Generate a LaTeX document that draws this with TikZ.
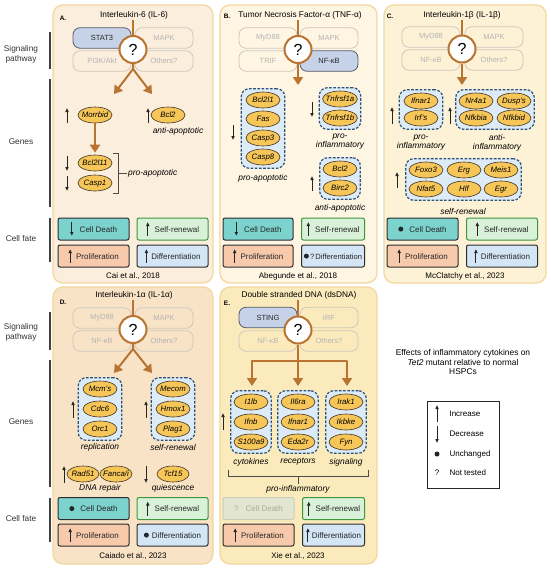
\documentclass[tikz,border=0pt]{standalone}
\usepackage{fontspec}
\setmainfont{Liberation Sans}
\usepackage{tikz}
\usetikzlibrary{shapes,arrows.meta,positioning,fit,backgrounds}
\usepackage{xcolor}
\definecolor{panA}{RGB}{252,238,220}
\definecolor{panB}{RGB}{254,245,226}
\definecolor{panC}{RGB}{253,242,214}
\definecolor{panD}{RGB}{249,227,198}
\definecolor{panE}{RGB}{251,235,188}
\definecolor{panline}{RGB}{244,214,156}
\definecolor{brn}{RGB}{185,116,50}
\definecolor{genefill}{RGB}{246,198,88}
\definecolor{geneline}{RGB}{60,50,40}
\definecolor{grpfill}{RGB}{221,235,247}
\definecolor{grpline}{RGB}{42,82,122}
\definecolor{onfill}{RGB}{198,210,232}
\definecolor{online}{RGB}{85,90,105}
\definecolor{offline}{RGB}{205,200,190}
\definecolor{offtext}{RGB}{180,180,180}
\definecolor{fateline}{RGB}{45,45,45}
\definecolor{deathfill}{RGB}{124,211,206}
\definecolor{renewfill}{RGB}{217,241,217}
\definecolor{renewline}{RGB}{62,150,62}
\definecolor{prolfill}{RGB}{248,202,172}
\definecolor{difffill}{RGB}{212,229,245}
\definecolor{nofill}{RGB}{226,230,208}
\definecolor{noline}{RGB}{200,205,185}
\definecolor{notext}{RGB}{170,172,160}

\pgfdeclarelayer{bottom}
\pgfsetlayers{bottom,background,main}

% small symbols used inside the cell fate boxes
\newcommand{\symup}{\tikz[baseline=0pt]\draw[-{Latex[length=4pt,width=3.8pt]}, line width=1pt] (0pt,-4pt) -- (0pt,10pt);}
\newcommand{\symdown}{\tikz[baseline=0pt]\draw[-{Latex[length=4pt,width=3.8pt]}, line width=1pt] (0pt,10pt) -- (0pt,-4pt);}
\newcommand{\symdot}{\tikz[baseline=0pt]\fill (0pt,2.9pt) circle (2.5pt);}

\begin{document}
\begin{tikzpicture}[x=1pt, y=-1pt,
    panel/.style={draw=panline, line width=1.2pt, rounded corners=10pt},
    side/.style={align=center, font=\fontsize{8.3}{10}\selectfont, text=black!80},
    bar/.style={draw=black!75, line width=1.3pt},
    plabel/.style={font=\fontsize{6.5}{7}\selectfont\bfseries},
    ptitle/.style={font=\fontsize{8.3}{10}\selectfont, inner sep=1pt},
    pathbox/.style={rectangle, rounded corners=7pt, minimum width=58pt, minimum height=20.5pt, line width=0.8pt, font=\fontsize{7.5}{9}\selectfont},
    pathoff/.style={pathbox, draw=offline, text=offtext},
    pathon/.style={pathbox, draw=online, fill=onfill, text=black!85},
    qmark/.style={circle, draw=brn, fill=white, line width=2pt, minimum size=27pt, inner sep=0pt, font=\fontsize{16}{16}\selectfont},
    brline/.style={draw=brn, line width=2pt, line join=round},
    brarrow/.style={brline, -{Triangle[length=8pt,width=10pt]}},
    gene/.style={ellipse, draw=geneline, fill=genefill, line width=0.6pt, minimum width=34pt, minimum height=16pt, inner xsep=-2pt, inner ysep=0pt, text height=5.6pt, text depth=1.6pt, font=\fontsize{7.8}{8}\selectfont\itshape},
    grp/.style={rectangle, draw=grpline, fill=grpfill, dash pattern=on 2.6pt off 1.6pt, line width=1.2pt, rounded corners=8pt, inner xsep=4.5pt, inner ysep=3pt},
    note/.style={align=center, font=\fontsize{8.4}{9}\selectfont\itshape, inner sep=1pt},
    ind/.style={-{Latex[length=4pt,width=3.8pt]}, line width=1pt, draw=black!85},
    brk/.style={draw=black!70, line width=0.7pt},
    fate/.style={rectangle, draw=fateline, line width=1pt, rounded corners=2pt, minimum width=71pt, minimum height=22pt, text height=10pt, text depth=4pt, font=\fontsize{8}{9}\selectfont, text=black!85},
    death/.style={fate, fill=deathfill},
    renew/.style={fate, fill=renewfill, draw=renewline},
    prolif/.style={fate, fill=prolfill},
    diffr/.style={fate, fill=difffill},
    untested/.style={fate, fill=nofill, draw=noline, text=notext},
    cite/.style={font=\fontsize{8}{9}\selectfont}
]
\useasboundingbox (0,0) rectangle (550,568);

% panels
\begin{pgfonlayer}{bottom}
\fill[white] (0,0) rectangle (550,568);
\draw[panel, fill=panA] (53,5) rectangle (213,283);
\draw[panel, fill=panB] (220,5) rectangle (377,283);
\draw[panel, fill=panC] (384,5) rectangle (546,283);
\draw[panel, fill=panD] (53,287) rectangle (213,564);
\draw[panel, fill=panE] (220,287) rectangle (377,564);
\end{pgfonlayer}

% row labels
\node[side] (sig1) at (21,54) {Signaling\\pathway};
\node[side] (gen1) at (21,142) {Genes};
\node[side] (fat1) at (21,239) {Cell fate};
\node[side] (sig2) at (21,332) {Signaling\\pathway};
\node[side] (gen2) at (21,422) {Genes};
\node[side] (fat2) at (21,519) {Cell fate};
\draw[bar] (50,32) -- (50,69);
\draw[bar] (50,79) -- (50,207);
\draw[bar] (50,218) -- (50,262);
\draw[bar] (50,312) -- (50,350);
\draw[bar] (50,360) -- (50,487);
\draw[bar] (50,498) -- (50,542);

%%% A: IL-6
\node[plabel] (labA) at (63,18) {A.};
\node[ptitle] (tA) at (134,15) {Interleukin-6 (IL-6)};
\node[pathon] (stat3) at (102,38) {STAT3};
\node[pathoff] (mapkA) at (164,38) {MAPK};
\node[pathoff] (pi3k) at (102,61) {PI3K/Akt};
\node[pathoff] (othA) at (164,61) {Others?};
\node[qmark] (qA) at (133,49.5) {?};
\coordinate (sA) at (133,69);
\coordinate (aAl) at (114,94);
\coordinate (aAr) at (152,94);
\draw[brline] (tA.south -| qA) -- (qA);
\draw[brarrow] (qA) -- (sA) -- (aAl);
\draw[brarrow] (sA) -- (aAr);

\node[gene] (morrbid) at (95,115) {Morrbid};
\node[gene] (bcl2A) at (168,115) {Bcl2};
\node[note] (antiA) at (178,131) {anti-apoptotic};
\node[gene] (bcl2l11) at (95,163) {Bcl2l11};
\node[gene] (casp1) at (95,183) {Casp1};
\draw[brarrow, shorten >=2pt] (morrbid) -- (bcl2l11);
\draw[ind] (67,123) -- (67,108);
\draw[ind] (148,123) -- (148,108);
\draw[ind] (67,156) -- (67,171);
\draw[ind] (67,176) -- (67,191);
\node[note, anchor=west] (proA) at (127,173) {pro-apoptotic};
\draw[brk] (113,153) -- (118,153) -- (118,193) -- (113,193);
\draw[brk] (118,173) -- (proA.west);

\node[death] (cdA) at (93.5,229) {\symdown\hspace{6pt}Cell Death};
\node[renew] (srA) at (172.5,229) {\symup\hspace{5pt}Self-renewal};
\node[prolif] (prA) at (93.5,256) {\symup\hspace{4pt}Proliferation};
\node[diffr] (dfA) at (172.5,256) {\symup\hspace{3pt}Differentiation};
\node[cite] (citA) at (133,276) {Cai et al., 2018};

%%% B: TNF-alpha
\node[plabel] (labB) at (227,16) {B.};
\node[ptitle] (tB) at (300,15) {Tumor Necrosis Factor-α (TNF-α)};
\node[pathoff] (myd88B) at (268,38) {MyD88};
\node[pathoff] (mapkB) at (329,38) {MAPK};
\node[pathoff] (trif) at (268,61) {TRIF};
\node[pathon] (nfkbB) at (329,61) {NF-κB};
\node[qmark] (qB) at (298,49.5) {?};
\coordinate (aB) at (298,85);
\draw[brline] (tB.south -| qB) -- (qB);
\draw[brarrow] (qB) -- (aB);

\node[gene] (bcl2l1) at (263,100) {Bcl2l1};
\node[gene] (fas) at (263,119) {Fas};
\node[gene] (casp3) at (263,138) {Casp3};
\node[gene] (casp8) at (263,157) {Casp8};
\node[gene] (tnfa) at (340,99) {Tnfrsf1a};
\node[gene] (tnfb) at (340,118) {Tnfrsf1b};
\node[gene] (bcl2B) at (340,169) {Bcl2};
\node[gene] (birc2) at (340,188) {Birc2};
\begin{scope}[on background layer]
\node[grp, fit=(bcl2l1)(casp8)] (gB1) {};
\node[grp, fit=(tnfa)(tnfb), inner xsep=3pt] (gB2) {};
\node[grp, fit=(bcl2B)(birc2), inner xsep=3pt] (gB3) {};
\end{scope}
\draw[ind] (233,125) -- (233,140);
\draw[ind] (312,102) -- (312,117);
\draw[ind] (312,191) -- (312,176);
\node[note] (proB) at (263,178) {pro-apoptotic};
\node[note] (inflB) at (340,142) {pro-\\inflammatory};
\node[note] (antiB) at (340,208) {anti-apoptotic};

\node[death, minimum width=70pt] (cdB) at (258,229) {\symdown\hspace{6pt}Cell Death};
\node[renew, minimum width=63pt] (srB) at (333,229) {\symup\hspace{5pt}Self-renewal};
\node[prolif, minimum width=70pt] (prB) at (258,256) {\symup\hspace{4pt}Proliferation};
\node[diffr, minimum width=63pt, inner xsep=1pt, font=\fontsize{7.6}{9}\selectfont] (dfB) at (333,256) {\symdot\,?\hspace{1pt}Differentiation};
\node[cite] (citB) at (298,276) {Abegunde et al., 2018};

%%% C: IL-1beta
\node[plabel] (labC) at (390,16) {C.};
\node[ptitle] (tC) at (462,15) {Interleukin-1β (IL-1β)};
\node[pathoff] (myd88C) at (431,37) {MyD88};
\node[pathoff] (mapkC) at (494,37) {MAPK};
\node[pathoff] (nfkbC) at (431,60) {NF-κB};
\node[pathoff] (othC) at (494,60) {Others?};
\node[qmark] (qC) at (462,49) {?};
\coordinate (aC) at (462,85);
\draw[brline] (tC) -- (qC);
\draw[brarrow] (qC) -- (aC);

\node[gene] (ifnar1C) at (421,101) {Ifnar1};
\node[gene] (irfs) at (421,118) {Irf's};
\node[gene] (nr4a1) at (476,101) {Nr4a1};
\node[gene] (dusps) at (514,101) {Dusp's};
\node[gene] (nfkbia) at (476,118) {Nfkbia};
\node[gene] (nfkbid) at (514,118) {Nfkbid};
\node[gene] (foxo3) at (426,170) {Foxo3};
\node[gene] (erg) at (464,170) {Erg};
\node[gene] (meis1) at (501,170) {Meis1};
\node[gene] (nfat5) at (426,189) {Nfat5};
\node[gene] (hlf) at (464,189) {Hlf};
\node[gene] (egr) at (501,189) {Egr};
\begin{scope}[on background layer]
\node[grp, fit=(ifnar1C)(irfs)] (gC1) {};
\node[grp, fit=(nr4a1)(nfkbid), inner xsep=3pt] (gC2) {};
\node[grp, fit=(foxo3)(egr), inner xsep=3pt] (gC3) {};
\end{scope}
\draw[ind] (392,124) -- (392,107);
\draw[ind] (450,124) -- (450,107);
\draw[ind] (397,188) -- (397,172);
\node[note] (inflC) at (421,143) {pro-\\inflammatory};
\node[note] (antiC) at (497,143) {anti-\\inflammatory};
\node[note] (srnC) at (463,211) {self-renewal};

\node[death] (cdC) at (422.5,229) {\symdot\hspace{6pt}Cell Death};
\node[renew] (srC) at (502,229) {\symup\hspace{5pt}Self-renewal};
\node[prolif] (prC) at (422.5,256) {\symup\hspace{4pt}Proliferation};
\node[diffr] (dfC) at (502,256) {\symup\hspace{3pt}Differentiation};
\node[cite] (citC) at (465,276) {McClatchy et al., 2023};

%%% D: IL-1alpha
\node[plabel] (labD) at (63,302) {D.};
\node[ptitle] (tD) at (134,295) {Interleukin-1α (IL-1α)};
\node[pathoff] (myd88D) at (102,318) {MyD88};
\node[pathoff] (mapkD) at (164,318) {MAPK};
\node[pathoff] (nfkbD) at (102,341) {NF-κB};
\node[pathoff] (othD) at (164,341) {Others?};
\node[qmark] (qD) at (133,329.5) {?};
\coordinate (sD) at (133,349);
\coordinate (aDl) at (114,373);
\coordinate (aDr) at (152,373);
\draw[brline] (tD.south -| qD) -- (qD);
\draw[brarrow] (qD) -- (sD) -- (aDl);
\draw[brarrow] (sD) -- (aDr);

\node[gene] (mcms) at (100,389) {Mcm's};
\node[gene] (cdc6) at (100,409) {Cdc6};
\node[gene] (orc1) at (100,429) {Orc1};
\node[gene] (mecom) at (173,389) {Mecom};
\node[gene] (hmox1) at (173,409) {Hmox1};
\node[gene] (plag1) at (173,429) {Plag1};
\begin{scope}[on background layer]
\node[grp, fit=(mcms)(orc1)] (gD1) {};
\node[grp, fit=(mecom)(plag1)] (gD2) {};
\end{scope}
\draw[ind] (73,418) -- (73,401);
\draw[ind] (146,418) -- (146,401);
\node[note] (repl) at (100,447) {replication};
\node[note] (srnD) at (173,447) {self-renewal};
\node[gene, minimum width=32pt] (rad51) at (83,474) {Rad51};
\node[gene, minimum width=32pt] (fanca) at (116,474) {Fanca/i};
\node[gene, minimum width=32pt] (tcf15) at (173,474) {Tcf15};
\draw[ind] (64,483) -- (64,466);
\draw[ind] (146,466) -- (146,483);
\node[note] (dnarep) at (100,488) {DNA repair};
\node[note] (quies) at (173,488) {quiescence};

\node[death] (cdD) at (93.5,508.5) {\symdot\hspace{6pt}Cell Death};
\node[renew] (srD) at (172.5,508.5) {\symup\hspace{5pt}Self-renewal};
\node[prolif] (prD) at (93.5,535) {\symup\hspace{4pt}Proliferation};
\node[diffr] (dfD) at (172.5,535) {\symdot\hspace{3pt}Differentiation};
\node[cite] (citD) at (133,556) {Caiado et al., 2023};

%%% E: dsDNA
\node[plabel] (labE) at (227,303) {E.};
\node[ptitle] (tE) at (299,295) {Double stranded DNA (dsDNA)};
\node[pathon] (sting) at (268,317.5) {STING};
\node[pathoff] (irf) at (329,317.5) {IRF};
\node[pathoff] (nfkbE) at (268,341) {NF-κB};
\node[pathoff] (othE) at (329,341) {Others?};
\node[qmark] (qE) at (298,330) {?};
\coordinate (jE) at (298,361);
\coordinate (eL) at (252,386);
\coordinate (eM) at (298,386);
\coordinate (eR) at (347,386);
\draw[brline] (tE.south -| qE) -- (qE);
\draw[brline] (qE) -- (jE);
\draw[brarrow] (jE) -| (eL);
\draw[brarrow] (jE) -- (eM);
\draw[brarrow] (jE) -| (eR);

\node[gene] (il1b) at (251,402) {I1lb};
\node[gene] (ifnb) at (251,422) {Ifnb};
\node[gene] (s100a9) at (251,442) {S100a9};
\node[gene] (il6ra) at (298,402) {Il6ra};
\node[gene] (ifnar1E) at (298,422) {Ifnar1};
\node[gene] (eda2r) at (298,442) {Eda2r};
\node[gene] (irak1) at (346,402) {Irak1};
\node[gene] (ikbke) at (346,422) {Ikbke};
\node[gene] (fyn) at (346,442) {Fyn};
\begin{scope}[on background layer]
\node[grp, fit=(il1b)(s100a9), inner xsep=3pt] (gE1) {};
\node[grp, fit=(il6ra)(eda2r), inner xsep=3pt] (gE2) {};
\node[grp, fit=(irak1)(fyn), inner xsep=3pt] (gE3) {};
\end{scope}
\draw[ind] (223,430) -- (223,413);
\node[note] (cyto) at (251,462) {cytokines};
\node[note] (recep) at (298,462) {receptors};
\node[note] (signl) at (346,462) {signaling};
\node[note] (inflE) at (298,489) {pro-inflammatory};
\draw[brk] (228,470) -- (228,476) -- (368,476) -- (368,470);
\draw[brk] (298,476) -- (inflE.north);

\node[untested] (cdE) at (258.5,508.5) {?\hspace{7pt}Cell Death};
\node[renew, minimum width=62pt] (srE) at (333.5,508.5) {\symup\hspace{5pt}Self-renewal};
\node[prolif] (prE) at (258.5,535) {\symup\hspace{4pt}Proliferation};
\node[diffr, minimum width=62pt, inner xsep=1.5pt] (dfE) at (333.5,535) {\symup\hspace{2pt}Differentiation};
\node[cite] (citE) at (298,556) {Xie et al., 2023};

%%% legend
\node[align=center, font=\fontsize{8.4}{9.8}\selectfont] (legt) at (463,362) {Effects of inflammatory cytokines on\\\textit{Tet2} mutant relative to normal\\HSPCs};
\draw[line width=0.9pt, draw=black!85] (427,401) rectangle (499,488);
\node[anchor=west, font=\fontsize{8}{9}\selectfont] (linc) at (446,414) {Increase};
\node[anchor=west, font=\fontsize{8}{9}\selectfont] (ldec) at (446,434) {Decrease};
\node[anchor=west, font=\fontsize{8}{9}\selectfont] (lunc) at (446,454) {Unchanged};
\node[anchor=west, font=\fontsize{8}{9}\selectfont] (lnot) at (446,473) {Not tested};
\draw[ind] (437,422) -- (437,405);
\draw[ind] (437,426) -- (437,443);
\fill[black!85] (437,454) circle (2.5);
\node[font=\fontsize{8}{9}\selectfont] (qsym) at (437,473) {?};

\end{tikzpicture}
\end{document}
